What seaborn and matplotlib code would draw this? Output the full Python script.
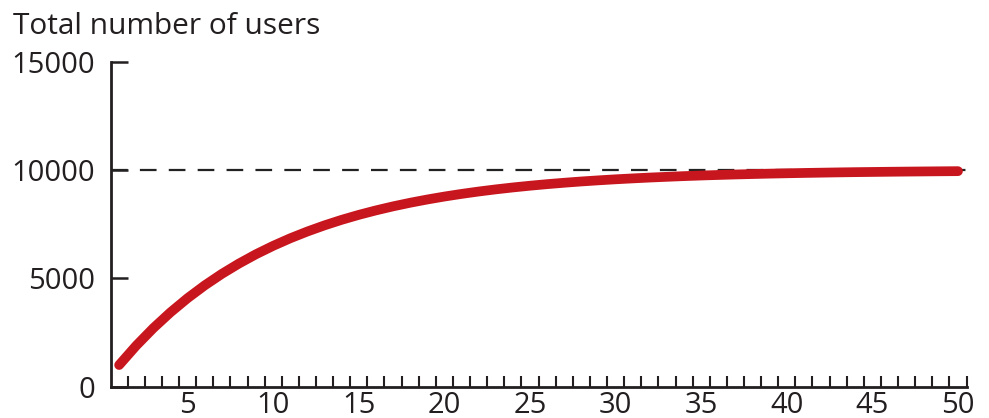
import numpy as np
import pandas as pd
import matplotlib
matplotlib.use("Agg")
import matplotlib.pyplot as plt
import seaborn as sns
from matplotlib.ticker import FixedLocator

# ---- data ----
months = list(range(1, 51))
users = [1000, 1897, 2705, 3432, 4087, 4676, 5207, 5684, 6115, 6502,
         6851, 7164, 7447, 7702, 7931, 8137, 8323, 8490, 8640, 8776,
         8898, 9008, 9107, 9196, 9276, 9348, 9413, 9472, 9524, 9572,
         9614, 9653, 9687, 9719, 9747, 9772, 9795, 9815, 9834, 9850,
         9865, 9878, 9891, 9902, 9911, 9920, 9928, 9935, 9942, 9948]
capacity = 10000
x_labels = [5, 10, 15, 20, 25, 30, 35, 40, 45, 50]
y_ticks = [0, 5000, 10000, 15000]
title = "Total number of users"

df = pd.DataFrame({"month": months, "users": users})

sns.set_theme(style="white")
plt.rcParams["font.family"] = ["Open Sans", "DejaVu Sans"]

fig = plt.figure(figsize=(9.89, 4.18), dpi=100)
ax = fig.add_axes([0.1118, 0.0749, 0.8655, 0.7775])

ax.axhline(capacity, xmin=0, xmax=1, color="#222222", lw=1.6,
           dashes=(7.5, 5.5), zorder=1)
sns.lineplot(data=df, x="month", y="users", ax=ax, color="#C8161E",
             lw=7, solid_capstyle="round", zorder=3)

ax.set_xlim(0.5, 50.5)
ax.set_ylim(0, 15000)

ax.set_xticks(x_labels)
ax.set_xticklabels([str(v) for v in x_labels], fontsize=21, color="#231F20")
ax.xaxis.set_minor_locator(FixedLocator([m + 0.5 for m in months]))
ax.tick_params(axis="x", which="major", length=0, pad=3)
ax.tick_params(axis="x", which="minor", direction="in", length=8,
               width=1.5, color="#231F20", bottom=True)

ax.set_yticks(y_ticks)
ax.set_yticklabels([str(v) for v in y_ticks], fontsize=21, color="#231F20")
ax.tick_params(axis="y", which="major", direction="in", length=12,
               width=1.8, color="#231F20", pad=11, left=True)

for s in ["top", "right"]:
    ax.spines[s].set_visible(False)
for s in ["left", "bottom"]:
    ax.spines[s].set_color("#231F20")
    ax.spines[s].set_linewidth(2)

ax.set_xlabel("")
ax.set_ylabel("")
fig.text(0.013, 0.972, title, fontsize=21.5, color="#231F20",
         ha="left", va="top")

fig.savefig("out.png", dpi=100)
